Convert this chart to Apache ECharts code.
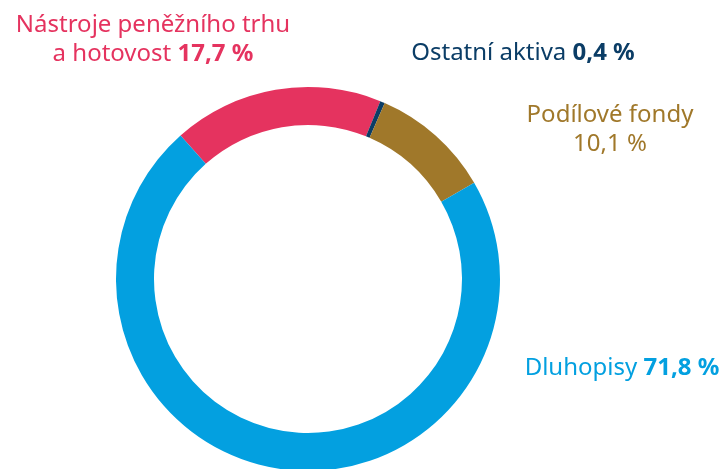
<!DOCTYPE html>
<html>
<head>
<meta charset="utf-8">
<script src="https://cdn.jsdelivr.net/npm/echarts@6/dist/echarts.min.js"></script>
<style>html,body{margin:0;padding:0;background:#fff;}#c{width:726px;height:469px;}</style>
</head>
<body>
<div id="c"></div>
<script>
const categories = ['Nástroje peněžního trhu a hotovost', 'Ostatní aktiva', 'Podílové fondy', 'Dluhopisy'];
const values = [17.7, 0.4, 10.1, 71.8];
const valueLabels = ['17,7 %', '0,4 %', '10,1 %', '71,8 %'];
const colors = ['#E5335F', '#0B3D66', '#A0782A', '#03A0E0'];

const FONT = 'Noto Sans';
const FS = 24;
function rich(color) {
  return {
    n: { fontFamily: FONT, fontSize: FS, fontWeight: 400, fill: color, lineHeight: 29 },
    b: { fontFamily: FONT, fontSize: FS, fontWeight: 700, fill: color, lineHeight: 29 }
  };
}

const chart = echarts.init(document.getElementById('c'), null, { renderer: 'canvas' });
chart.setOption({
  backgroundColor: '#ffffff',
  animation: false,
  series: [{
    type: 'pie',
    center: [308, 279],
    radius: [154, 192],
    startAngle: 131.6,
    clockwise: true,
    avoidLabelOverlap: false,
    label: { show: false },
    labelLine: { show: false },
    itemStyle: { borderWidth: 0 },
    emphasis: { disabled: true },
    data: categories.map((c, i) => ({ name: c, value: values[i], itemStyle: { color: colors[i] } }))
  }],
  graphic: [
    { type: 'text', x: 153, y: 40, style: { text: '{n|Nástroje peněžního trhu}\n{n|a hotovost }{b|' + valueLabels[0] + '}', rich: rich(colors[0]), align: 'center', verticalAlign: 'middle' } },
    { type: 'text', x: 523, y: 53, style: { text: '{n|' + categories[1] + ' }{b|' + valueLabels[1] + '}', rich: rich(colors[1]), align: 'center', verticalAlign: 'middle' } },
    { type: 'text', x: 610, y: 130, style: { text: '{n|' + categories[2] + '}\n{n|' + valueLabels[2] + '}', rich: rich(colors[2]), align: 'center', verticalAlign: 'middle' } },
    { type: 'text', x: 622, y: 368, style: { text: '{n|' + categories[3] + ' }{b|' + valueLabels[3] + '}', rich: rich(colors[3]), align: 'center', verticalAlign: 'middle' } }
  ]
});
</script>
</body>
</html>
